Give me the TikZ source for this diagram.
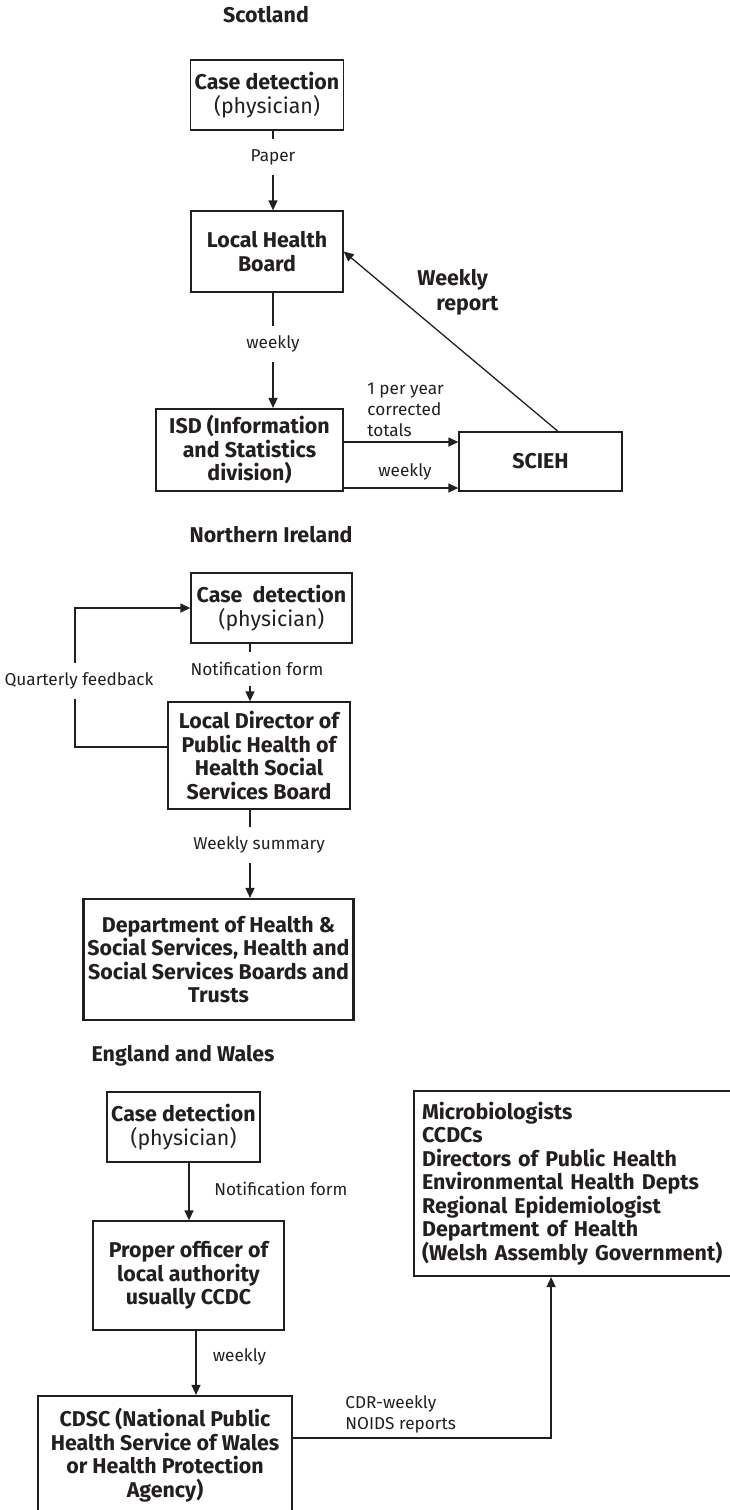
\documentclass[tikz,border=0pt]{standalone}
\usepackage{fontspec}
\setmainfont{Fira Sans}
\usetikzlibrary{arrows.meta}
\definecolor{ink}{HTML}{231F20}
\tikzset{
  flow/.style={-{Triangle[length=5pt,width=4.5pt]}, line width=0.65pt, color=ink},
  wire/.style={line width=0.65pt, color=ink},
  box/.style={draw=ink, line width=0.65pt, align=center, text=ink, inner sep=2pt,
    font=\fontsize{10.7}{11.75}\selectfont\bfseries},
  boxthk/.style={box, line width=1.1pt},
  ttl/.style={font=\fontsize{10.7}{12}\selectfont\bfseries, text=ink},
  lbl/.style={font=\fontsize{8.6}{10.5}\selectfont, text=ink, inner sep=4.7pt},
  note/.style={lbl, inner sep=0pt, align=left, anchor=west},
}
\begin{document}
\begin{tikzpicture}[x=0.5pt,y=-0.5pt]
  \useasboundingbox (0,0) rectangle (729,1510);
  % Scotland
  \node[ttl] (scot) at (266,15) {Scotland};
  \node[box, minimum width=76pt, minimum height=35pt] (cd1) at (267,95) {Case detection\\{\mdseries(physician)}};
  \node[lbl] (paper) at (273,157) {Paper};
  \node[box, minimum width=76pt, minimum height=40.5pt] (lhb) at (267,251.5) {Local Health\\Board};
  \node[lbl] (wk1) at (273,344) {weekly};
  \node[boxthk, minimum width=93.5pt, minimum height=41pt] (isd) at (249.5,450) {ISD (Information\\and Statistics\\division)};
  \node[box, minimum width=81.5pt, minimum height=29.5pt] (scieh) at (540.5,461.5) {SCIEH};
  \node[note] (yr) at (367,410) {1 per year\\corrected\\totals};
  \node[lbl, inner sep=0pt] (wk2) at (405,472) {weekly};
  \node[note, font=\fontsize{10.7}{12.5}\selectfont\bfseries] (wrep) at (417,292.5) {Weekly\\\hspace*{9.5pt}report};
  \draw[wire] (cd1.south -| paper) -- (paper.north);
  \draw[flow] (paper.south) -- (lhb.north -| paper);
  \draw[wire] (lhb.south -| wk1) -- (wk1.north);
  \draw[flow] (wk1.south) -- (isd.north -| wk1);
  \draw[flow] ([yshift=4pt]isd.east) -- ([yshift=9.75pt]scieh.west);
  \draw[flow] ([yshift=-19pt]isd.east) -- ([yshift=-13.25pt]scieh.west);
  \draw[flow] ([xshift=8.75pt]scieh.north) -- (lhb.east);
  % Northern Ireland
  \node[ttl] (nire) at (271,534.5) {Northern Ireland};
  \node[box, minimum width=80.5pt, minimum height=35pt] (cd2) at (271.5,608) {Case\ \ detection\\{\mdseries(physician)}};
  \coordinate (nicol) at (250,0);
  \node[lbl] (nf1) at (257,669) {Notification form};
  \node[box, minimum width=91pt, minimum height=53.5pt] (ld) at (259,755.5) {Local Director of\\Public Health of\\Health Social\\Services Board};
  \node[lbl] (qf) at (79,681) {Quarterly feedback};
  \node[lbl] (wsum) at (259,845) {Weekly summary};
  \node[boxthk, minimum width=134.5pt, minimum height=60.5pt] (dhss) at (218.5,959.5) {Department of Health \&\\Social Services, Health and\\Social Services Boards and\\Trusts};
  \draw[wire] (cd2.south -| nicol) -- (nf1.north -| nicol);
  \draw[flow] (nf1.south -| nicol) -- (ld.north -| nicol);
  \draw[wire] ([yshift=4.25pt]ld.west) -| ([xshift=-2pt]qf.south);
  \draw[flow] ([xshift=-2pt]qf.north) |- (cd2.west);
  \draw[wire] (ld.south -| nicol) -- (wsum.north -| nicol);
  \draw[flow] (wsum.south -| nicol) -- (dhss.north -| nicol);
  % England and Wales
  \node[ttl] (engw) at (183,1056) {England and Wales};
  \node[box, minimum width=76.5pt, minimum height=35pt] (cd3) at (183.5,1127) {Case detection\\{\mdseries(physician)}};
  \coordinate (ewcol) at (189,0);
  \coordinate (ewcolb) at (196,0);
  \node[note] (nf2) at (214,1189) {Notification form};
  \node[box, minimum width=95.5pt, minimum height=54.5pt] (po) at (188.5,1275.5) {Proper officer of\\local authority\\usually CCDC};
  \node[note] (wk3) at (212.5,1357) {weekly};
  \node[boxthk, minimum width=127pt, minimum height=59pt] (cdsc) at (165,1455) {CDSC (National Public\\Health Service of Wales\\or Health Protection\\Agency)};
  \node[boxthk, minimum height=92.5pt, align=left, text width=170pt, inner sep=4pt, anchor=west] (mic) at (413,1183.5) {Microbiologists\\CCDCs\\Directors of Public Health\\Environmental Health Depts\\Regional Epidemiologist\\Department of Health\\(Welsh Assembly Government)};
  \node[note] (cdr) at (345,1414) {CDR-weekly\\NOIDS reports};
  \draw[flow] (cd3.south -| ewcol) -- (po.north -| ewcol);
  \draw[flow] (po.south -| ewcolb) -- (cdsc.north -| ewcolb);
  \draw[flow] ([yshift=8.5pt]cdsc.east) -| ([xshift=-20.5pt]mic.south);
\end{tikzpicture}
\end{document}
